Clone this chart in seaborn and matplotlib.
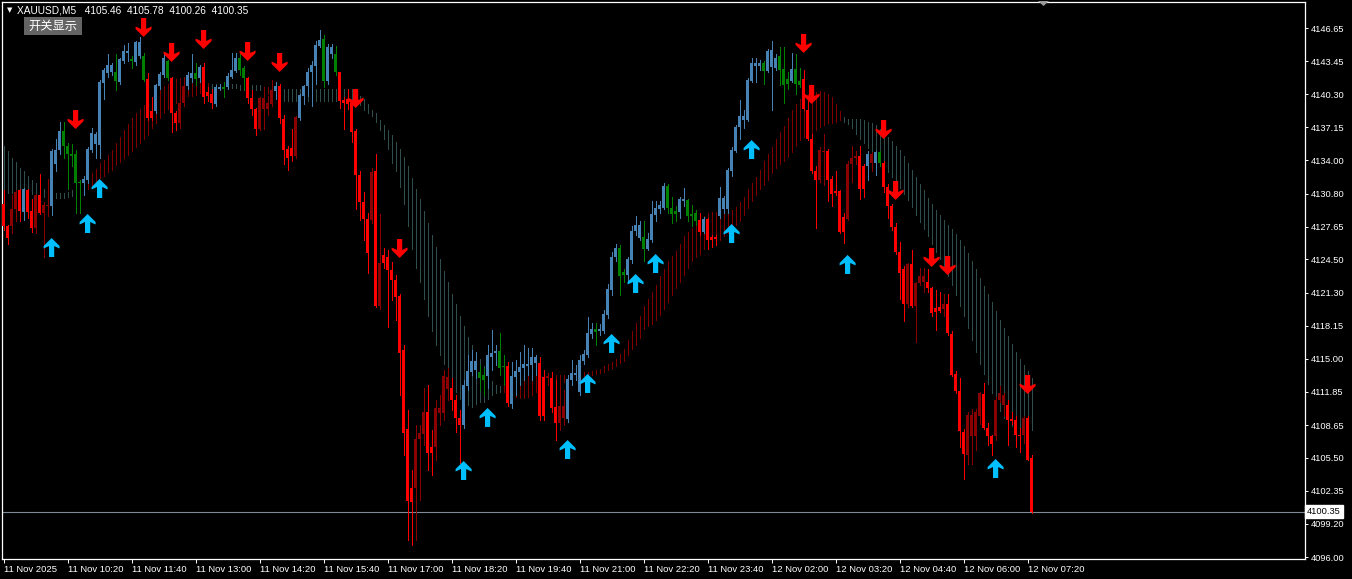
import numpy as np
import pandas as pd
import matplotlib
matplotlib.use("Agg")
import matplotlib.pyplot as plt
import seaborn as sns
from matplotlib.path import Path
from matplotlib.markers import MarkerStyle
from matplotlib.patches import Rectangle, Polygon
import matplotlib.transforms as mtransforms

# ---------------- data (XAUUSD M5) ----------------
opens = [4129.80, 4127.73, 4127.66, 4129.37, 4131.12, 4129.04, 4131.12, 4129.14, 4127.50, 4130.69,
 4128.98, 4129.64, 4129.64, 4133.66, 4134.97, 4136.82, 4135.40, 4134.64, 4134.64, 4131.94,
 4131.78, 4132.11, 4134.97, 4135.57, 4135.50, 4141.43, 4142.32, 4142.41, 4142.41, 4141.49,
 4143.53, 4144.29, 4143.70, 4143.40, 4143.96, 4143.96, 4141.76, 4138.69, 4138.69, 4141.10,
 4142.15, 4143.47, 4141.89, 4138.53, 4137.54, 4139.45, 4141.10, 4141.82, 4142.32, 4141.82,
 4142.88, 4140.50, 4140.34, 4139.35, 4140.83, 4141.00, 4141.00, 4141.99, 4142.58, 4143.80,
 4142.81, 4141.89, 4139.91, 4138.86, 4136.95, 4138.92, 4138.86, 4139.35, 4140.60, 4141.06,
 4137.97, 4135.07, 4135.17, 4134.41, 4138.00, 4140.17, 4141.10, 4142.41, 4142.97, 4144.95,
 4145.61, 4141.59, 4144.13, 4144.13, 4142.41, 4139.78, 4139.85, 4139.52, 4136.82, 4132.60,
 4130.03, 4128.39, 4128.32, 4132.93, 4120.09, 4124.93, 4124.73, 4123.49, 4122.54, 4121.00,
 4115.84, 4108.27, 4102.63, 4102.63, 4107.32, 4107.80, 4109.90, 4106.55, 4106.55, 4109.81,
 4109.81, 4112.10, 4112.20, 4111.05, 4109.33, 4108.66, 4112.39, 4113.73, 4113.92, 4113.73,
 4113.44, 4113.35, 4115.17, 4115.55, 4115.74, 4114.30, 4114.30, 4110.67, 4113.25, 4113.73,
 4114.11, 4114.30, 4114.40, 4114.59, 4114.59, 4113.25, 4113.16, 4113.16, 4110.38, 4108.85,
 4109.33, 4109.23, 4112.97, 4113.44, 4111.82, 4114.82, 4115.31, 4117.39, 4117.85, 4117.62,
 4117.62, 4119.17, 4121.57, 4124.70, 4125.62, 4123.32, 4123.05, 4124.44, 4127.27, 4126.51,
 4126.61, 4125.52, 4126.34, 4128.71, 4129.31, 4129.47, 4131.55, 4129.47, 4129.14, 4129.04,
 4130.13, 4130.23, 4128.81, 4128.98, 4128.32, 4127.17, 4128.39, 4126.67, 4126.67, 4128.65,
 4129.31, 4129.31, 4132.99, 4134.91, 4137.21, 4137.87, 4137.87, 4141.56, 4142.97, 4142.97,
 4143.30, 4142.55, 4142.88, 4142.81, 4143.96, 4142.74, 4141.76, 4141.56, 4142.74, 4141.56,
 4141.76, 4138.79, 4136.06, 4132.99, 4132.11, 4134.74, 4134.91, 4132.21, 4131.02, 4131.02,
 4128.58, 4128.39, 4133.59, 4134.25, 4134.41, 4133.42, 4133.42, 4133.75, 4133.75, 4134.74,
 4133.75, 4131.45, 4129.64, 4127.60, 4125.19, 4123.55, 4120.25, 4124.04, 4120.09, 4122.23,
 4122.33, 4122.33, 4121.73, 4119.82, 4119.92, 4119.76, 4120.25, 4117.39, 4113.50, 4111.92,
 4107.97, 4105.76, 4107.57, 4107.57, 4109.55, 4111.59, 4108.40, 4107.57, 4107.57, 4111.03,
 4110.54, 4110.54, 4109.22, 4109.15, 4107.74, 4107.74, 4109.29, 4105.46]

highs = [4131.12, 4127.83, 4130.63, 4131.12, 4131.28, 4131.35, 4131.28, 4130.30, 4130.79, 4132.67,
 4129.97, 4132.21, 4135.07, 4136.06, 4137.61, 4137.61, 4135.63, 4135.57, 4134.97, 4132.11,
 4132.44, 4135.24, 4137.05, 4136.72, 4141.66, 4142.81, 4144.13, 4143.30, 4144.13, 4143.80,
 4145.05, 4145.18, 4143.96, 4145.44, 4145.77, 4144.29, 4142.32, 4140.01, 4141.33, 4142.48,
 4144.13, 4143.63, 4141.99, 4138.69, 4139.85, 4141.99, 4142.48, 4144.13, 4143.30, 4143.14,
 4143.30, 4141.00, 4140.83, 4141.16, 4141.33, 4141.49, 4142.32, 4144.29, 4144.29, 4144.13,
 4142.97, 4141.99, 4140.67, 4139.02, 4140.01, 4141.00, 4140.17, 4141.66, 4141.49, 4141.33,
 4138.36, 4135.40, 4136.95, 4138.20, 4140.34, 4141.16, 4142.81, 4143.47, 4145.44, 4146.50,
 4145.94, 4145.12, 4145.12, 4144.95, 4142.48, 4140.01, 4140.83, 4139.68, 4136.95, 4132.93,
 4130.95, 4128.98, 4133.26, 4134.58, 4128.81, 4125.60, 4125.41, 4124.26, 4123.01, 4121.19,
 4116.31, 4110.10, 4104.35, 4108.66, 4108.66, 4112.20, 4112.49, 4108.18, 4111.05, 4111.53,
 4113.92, 4114.11, 4113.16, 4111.53, 4110.10, 4112.97, 4115.36, 4115.84, 4115.65, 4114.40,
 4114.11, 4116.31, 4117.75, 4116.31, 4117.46, 4115.36, 4114.69, 4114.69, 4114.88, 4115.65,
 4116.31, 4116.02, 4116.02, 4115.36, 4115.17, 4113.92, 4113.63, 4113.73, 4112.97, 4112.78,
 4112.01, 4113.44, 4114.88, 4114.40, 4115.36, 4115.81, 4119.03, 4118.44, 4118.44, 4118.28,
 4119.69, 4122.13, 4125.19, 4126.01, 4125.85, 4123.55, 4124.70, 4127.66, 4128.65, 4128.16,
 4128.16, 4127.00, 4130.13, 4130.13, 4130.13, 4131.78, 4131.68, 4130.46, 4129.64, 4130.46,
 4131.35, 4130.30, 4129.70, 4129.24, 4128.91, 4128.58, 4128.49, 4126.84, 4126.84, 4131.45,
 4130.56, 4133.26, 4135.24, 4137.38, 4139.78, 4138.79, 4141.82, 4143.80, 4143.80, 4143.63,
 4143.53, 4144.62, 4145.38, 4144.13, 4144.79, 4144.79, 4142.48, 4144.29, 4144.13, 4142.81,
 4142.64, 4139.68, 4136.55, 4133.42, 4135.24, 4136.55, 4135.07, 4132.44, 4132.93, 4131.12,
 4128.98, 4133.92, 4135.40, 4134.91, 4135.40, 4133.59, 4134.91, 4134.74, 4134.91, 4134.91,
 4133.92, 4131.68, 4129.80, 4127.99, 4126.18, 4123.88, 4124.20, 4125.36, 4122.39, 4123.71,
 4123.71, 4123.55, 4121.90, 4121.57, 4121.40, 4121.24, 4121.24, 4117.62, 4113.83, 4113.17,
 4108.23, 4109.88, 4110.21, 4110.21, 4111.86, 4112.68, 4108.89, 4107.74, 4111.36, 4112.35,
 4111.69, 4111.03, 4109.88, 4109.55, 4108.40, 4109.55, 4109.55, 4105.78]

lows = [4127.33, 4125.95, 4127.00, 4128.16, 4128.16, 4128.32, 4128.49, 4127.17, 4127.00, 4128.81,
 4124.76, 4128.65, 4128.71, 4132.93, 4134.58, 4134.25, 4131.28, 4133.42, 4128.98, 4128.98,
 4130.63, 4131.78, 4134.74, 4134.25, 4134.25, 4139.85, 4141.99, 4142.15, 4140.67, 4141.33,
 4143.30, 4143.47, 4142.81, 4143.14, 4143.80, 4141.56, 4137.87, 4137.87, 4138.53, 4140.83,
 4141.99, 4141.66, 4136.72, 4136.88, 4137.05, 4139.19, 4140.83, 4141.49, 4141.16, 4141.49,
 4139.52, 4139.68, 4139.02, 4139.19, 4140.67, 4140.01, 4140.83, 4141.82, 4142.48, 4142.15,
 4140.83, 4139.52, 4138.36, 4136.39, 4136.88, 4136.95, 4138.36, 4139.19, 4139.85, 4137.54,
 4133.59, 4133.10, 4133.92, 4134.25, 4137.87, 4139.35, 4140.17, 4139.19, 4141.33, 4144.79,
 4141.00, 4141.33, 4143.80, 4142.15, 4139.02, 4136.95, 4138.86, 4135.73, 4129.31, 4128.32,
 4126.34, 4123.22, 4127.99, 4119.92, 4119.76, 4123.68, 4118.04, 4120.62, 4118.71, 4111.53,
 4105.79, 4097.65, 4097.18, 4097.65, 4101.48, 4106.74, 4104.35, 4103.88, 4105.31, 4108.66,
 4109.14, 4111.05, 4110.10, 4107.99, 4105.02, 4108.37, 4112.01, 4113.44, 4113.16, 4112.01,
 4111.53, 4112.20, 4113.92, 4114.40, 4113.44, 4112.49, 4110.48, 4110.29, 4111.53, 4112.49,
 4112.97, 4113.44, 4112.97, 4113.44, 4109.14, 4109.14, 4112.49, 4109.90, 4107.22, 4108.18,
 4108.66, 4108.95, 4112.49, 4112.97, 4111.53, 4114.49, 4115.15, 4116.96, 4116.30, 4117.29,
 4117.45, 4118.94, 4121.08, 4124.37, 4121.08, 4122.39, 4122.39, 4124.20, 4126.84, 4126.34,
 4124.37, 4125.36, 4126.18, 4128.16, 4128.98, 4129.31, 4128.98, 4128.00, 4128.16, 4128.49,
 4129.64, 4128.16, 4127.73, 4127.83, 4126.84, 4127.00, 4125.52, 4125.68, 4125.85, 4128.49,
 4128.98, 4128.98, 4132.44, 4134.74, 4136.06, 4137.05, 4137.71, 4141.49, 4141.49, 4142.64,
 4141.33, 4142.48, 4138.79, 4142.64, 4141.16, 4139.52, 4140.83, 4141.49, 4140.34, 4141.00,
 4138.79, 4135.89, 4132.77, 4127.50, 4131.94, 4131.61, 4130.13, 4129.64, 4130.63, 4127.07,
 4126.08, 4128.32, 4131.94, 4133.59, 4130.30, 4130.46, 4132.11, 4132.93, 4132.60, 4133.42,
 4130.95, 4128.49, 4127.33, 4125.03, 4120.75, 4118.61, 4119.92, 4119.92, 4116.63, 4122.07,
 4121.40, 4121.40, 4119.10, 4117.78, 4119.43, 4119.10, 4117.29, 4113.34, 4111.69, 4106.59,
 4103.46, 4104.94, 4104.94, 4106.26, 4108.73, 4108.23, 4106.75, 4105.76, 4107.24, 4110.87,
 4109.55, 4106.75, 4108.73, 4106.59, 4106.09, 4106.91, 4105.27, 4100.26]

closes = [4127.66, 4126.51, 4129.37, 4130.95, 4129.14, 4131.22, 4129.04, 4127.50, 4130.69, 4128.98,
 4129.74, 4129.74, 4134.91, 4134.97, 4136.82, 4135.40, 4134.58, 4134.41, 4131.78, 4131.78,
 4132.21, 4135.04, 4136.62, 4136.55, 4141.49, 4142.64, 4143.11, 4143.11, 4141.56, 4143.70,
 4144.46, 4144.46, 4143.47, 4145.28, 4145.28, 4141.72, 4138.03, 4138.03, 4141.16, 4142.25,
 4143.80, 4141.89, 4138.53, 4137.54, 4139.52, 4141.10, 4142.15, 4142.38, 4141.76, 4142.91,
 4140.01, 4140.17, 4139.52, 4141.00, 4141.00, 4140.83, 4142.09, 4142.64, 4143.80, 4142.64,
 4141.89, 4139.91, 4138.86, 4136.95, 4139.91, 4139.91, 4139.52, 4140.67, 4141.06, 4138.03,
 4134.97, 4134.25, 4134.41, 4138.13, 4140.24, 4141.10, 4142.48, 4143.14, 4145.05, 4145.51,
 4141.59, 4144.85, 4144.85, 4142.41, 4139.68, 4139.52, 4139.42, 4136.72, 4132.54, 4130.03,
 4128.39, 4125.09, 4132.83, 4120.09, 4124.20, 4124.16, 4123.49, 4122.54, 4120.91, 4115.55,
 4107.89, 4101.38, 4101.29, 4107.32, 4107.89, 4109.90, 4105.98, 4105.98, 4110.29, 4110.29,
 4113.35, 4113.25, 4111.05, 4109.33, 4108.66, 4112.49, 4113.82, 4114.78, 4114.78, 4113.16,
 4112.97, 4115.36, 4115.55, 4115.74, 4114.11, 4114.21, 4110.76, 4113.35, 4113.82, 4114.21,
 4114.50, 4114.50, 4115.17, 4115.17, 4109.52, 4109.52, 4113.35, 4110.29, 4108.85, 4110.48,
 4110.48, 4113.06, 4113.63, 4113.63, 4114.88, 4115.41, 4117.45, 4117.85, 4117.52, 4117.85,
 4119.26, 4121.67, 4124.76, 4125.62, 4122.89, 4122.99, 4124.53, 4127.27, 4127.83, 4127.83,
 4125.52, 4126.41, 4128.81, 4129.47, 4129.70, 4131.55, 4129.47, 4128.81, 4128.81, 4130.30,
 4130.30, 4128.65, 4128.65, 4128.22, 4127.17, 4128.39, 4126.34, 4126.34, 4126.41, 4130.36,
 4130.36, 4133.10, 4134.97, 4137.15, 4138.27, 4138.27, 4141.66, 4143.30, 4143.30, 4143.30,
 4142.55, 4144.46, 4144.52, 4143.80, 4142.64, 4141.23, 4141.33, 4142.74, 4141.33, 4141.23,
 4138.86, 4136.06, 4132.93, 4132.11, 4134.97, 4134.91, 4132.11, 4130.79, 4130.86, 4127.17,
 4127.17, 4133.66, 4134.25, 4134.41, 4131.28, 4131.28, 4134.64, 4134.64, 4134.74, 4133.75,
 4131.45, 4129.64, 4127.60, 4125.19, 4123.22, 4120.25, 4124.04, 4120.09, 4122.23, 4122.89,
 4122.89, 4121.80, 4119.36, 4119.49, 4119.59, 4120.25, 4117.45, 4113.44, 4111.92, 4108.07,
 4105.93, 4109.62, 4109.62, 4109.88, 4111.69, 4108.40, 4107.57, 4106.85, 4111.03, 4111.69,
 4111.53, 4109.15, 4109.06, 4107.74, 4107.64, 4109.29, 4105.34, 4100.35]

# candle colour state: B up/uptrend, G down/uptrend, R down/downtrend, D up/downtrend
candle_state = ("RRDDRBRRDR" "DDBBBGGGGG" "BBBBBBBBGB" "BBGBBGRRBB" "BGRRDDBBGB"
                "RRRBBGBBBG" "GRRRDDDDBR" "RRRDBBBBBB" "GBBGRRRRRR" "RRDRDRRRRR"
                "RRRDDDRRDD" "DDRRRBBBBG" "GBBBGGRBBB" "BBBBRRDRRD" "DBBBBBBBGB"
                "BBBBGGBBBB" "GBBBBBGGGB" "BGGGRBRRRB" "BBBBBBBBBB" "GBBBGGGBGG"
                "RRRRDDRRRR" "RDDDRRBDBG" "RRRRRRDRDD" "DRRRRDRRRR" "RDDDDRRRDD"
                "DRRRRDRR")

# trend cloud (two lines) and its state: S bearish (slate), M bullish (maroon)
band_upper = [4135.4, 4134.9, 4134.2, 4133.8, 4133.3, 4133.0, 4132.5, 4132.1, 4131.8, 4131.4,
 4131.2, 4131.0, 4131.0, 4130.9, 4130.9, 4130.9, 4131.0, 4131.1, 4131.2, 4131.2,
 4132.1, 4132.4, 4132.8, 4133.2, 4133.7, 4134.0, 4134.5, 4135.0, 4135.6, 4136.2,
 4136.9, 4137.5, 4138.0, 4138.5, 4138.9, 4139.3, 4139.7, 4140.0, 4140.4, 4140.8,
 4141.1, 4141.3, 4141.5, 4141.8, 4141.9, 4141.9, 4141.8, 4141.7, 4141.5, 4141.5,
 4141.5, 4141.4, 4141.3, 4141.3, 4141.3, 4141.3, 4141.3, 4141.3, 4141.3, 4141.2,
 4141.2, 4141.2, 4141.2, 4141.2, 4141.2, 4141.0, 4141.0, 4141.0, 4141.0, 4141.0,
 4140.8, 4140.8, 4140.8, 4140.8, 4140.8, 4140.8, 4140.8, 4140.8, 4140.8, 4140.8,
 4140.8, 4140.8, 4140.8, 4140.8, 4140.8, 4140.8, 4140.8, 4140.8, 4140.8, 4140.1,
 4139.9, 4139.4, 4138.8, 4138.5, 4137.8, 4137.4, 4136.9, 4136.4, 4135.7, 4135.1,
 4134.3, 4133.4, 4132.3, 4131.2, 4130.3, 4129.1, 4128.0, 4126.8, 4125.7, 4124.5,
 4123.4, 4122.3, 4121.2, 4120.2, 4119.1, 4118.1, 4117.1, 4116.3, 4115.6, 4115.0,
 4114.3, 4113.5, 4112.9, 4112.5, 4112.4, 4112.6, 4112.8, 4113.0, 4113.2, 4113.4,
 4113.5, 4113.5, 4113.4, 4113.4, 4113.4, 4113.4, 4113.4, 4113.4, 4113.4, 4113.4,
 4113.4, 4113.4, 4113.5, 4113.5, 4113.6, 4113.7, 4113.7, 4113.8, 4113.9, 4114.0,
 4114.3, 4114.5, 4114.7, 4115.0, 4115.5, 4115.9, 4116.8, 4117.7, 4118.4, 4119.1,
 4120.0, 4120.7, 4121.4, 4122.1, 4122.9, 4123.6, 4124.4, 4124.8, 4125.3, 4126.0,
 4126.7, 4127.1, 4127.5, 4127.8, 4128.3, 4128.7, 4128.9, 4129.0, 4129.0, 4129.0,
 4129.0, 4129.0, 4129.2, 4129.5, 4130.0, 4130.5, 4131.2, 4131.8, 4132.4, 4133.1,
 4133.9, 4134.6, 4135.3, 4136.0, 4136.7, 4137.3, 4138.0, 4138.8, 4139.4, 4139.9,
 4140.2, 4140.3, 4140.4, 4140.5, 4140.6, 4140.5, 4140.3, 4140.0, 4139.4, 4138.7,
 4138.1, 4137.9, 4137.9, 4137.9, 4137.9, 4137.8, 4137.7, 4137.6, 4137.4, 4137.0,
 4136.6, 4136.2, 4135.8, 4135.4, 4135.0, 4134.4, 4133.7, 4133.1, 4132.4, 4131.7,
 4131.1, 4130.4, 4129.8, 4129.2, 4128.8, 4128.3, 4127.8, 4127.4, 4126.9, 4126.4,
 4125.8, 4125.1, 4124.4, 4123.6, 4122.7, 4122.0, 4121.2, 4120.4, 4119.6, 4118.7,
 4117.9, 4117.2, 4116.4, 4115.6, 4115.0, 4114.4, 4113.8, 4113.2]

band_lower = [4130.9, 4130.9, 4130.9, 4130.9, 4130.9, 4130.8, 4130.8, 4130.8, 4130.8, 4130.7,
 4130.5, 4130.4, 4130.4, 4130.4, 4130.4, 4130.4, 4130.5, 4130.6, 4130.6, 4130.7,
 4131.0, 4131.2, 4131.3, 4131.7, 4132.3, 4132.5, 4132.9, 4133.1, 4133.5, 4133.8,
 4134.2, 4134.5, 4134.9, 4135.3, 4135.6, 4136.0, 4136.4, 4137.1, 4137.6, 4138.0,
 4138.5, 4138.9, 4139.2, 4139.5, 4139.8, 4140.0, 4140.1, 4140.1, 4140.2, 4140.4,
 4140.5, 4140.7, 4140.8, 4140.9, 4140.9, 4140.9, 4140.9, 4140.9, 4140.9, 4140.7,
 4140.7, 4140.7, 4140.7, 4140.7, 4140.7, 4140.3, 4140.3, 4140.3, 4140.3, 4140.3,
 4139.7, 4139.7, 4139.7, 4139.7, 4139.7, 4139.7, 4139.7, 4139.7, 4139.7, 4139.7,
 4139.7, 4139.7, 4139.7, 4139.7, 4139.7, 4139.7, 4139.7, 4139.7, 4139.7, 4139.3,
 4138.8, 4138.5, 4138.2, 4137.7, 4136.9, 4136.0, 4135.1, 4133.7, 4133.0, 4131.4,
 4129.8, 4127.7, 4125.5, 4123.7, 4122.3, 4120.7, 4119.1, 4117.7, 4116.3, 4115.4,
 4114.5, 4113.3, 4112.5, 4111.8, 4111.1, 4110.9, 4110.6, 4110.4, 4110.7, 4110.9,
 4110.9, 4111.1, 4111.5, 4111.7, 4111.8, 4111.8, 4111.6, 4111.4, 4111.3, 4111.2,
 4111.2, 4111.3, 4111.5, 4111.8, 4112.2, 4112.4, 4112.5, 4112.6, 4112.6, 4112.7,
 4112.8, 4112.9, 4113.0, 4113.1, 4113.2, 4113.2, 4113.3, 4113.4, 4113.5, 4113.6,
 4113.7, 4113.9, 4114.1, 4114.3, 4114.6, 4114.8, 4115.4, 4115.9, 4116.3, 4117.0,
 4117.8, 4118.1, 4118.3, 4118.7, 4119.2, 4119.8, 4120.4, 4121.1, 4121.8, 4122.3,
 4123.0, 4123.7, 4124.4, 4124.7, 4125.0, 4125.5, 4125.7, 4125.9, 4126.0, 4126.4,
 4126.7, 4127.0, 4127.5, 4127.8, 4128.2, 4128.8, 4129.4, 4130.1, 4130.7, 4131.2,
 4131.6, 4132.1, 4132.8, 4133.3, 4133.6, 4133.9, 4134.3, 4134.8, 4135.4, 4135.9,
 4136.2, 4136.4, 4136.6, 4136.9, 4137.2, 4137.4, 4137.6, 4137.6, 4137.7, 4137.8,
 4137.7, 4137.5, 4137.1, 4136.5, 4136.0, 4135.6, 4135.2, 4134.7, 4134.2, 4133.8,
 4133.3, 4132.9, 4132.4, 4131.9, 4131.3, 4130.8, 4130.2, 4129.5, 4128.8, 4128.1,
 4127.4, 4126.7, 4126.0, 4125.2, 4124.5, 4123.7, 4122.9, 4122.1, 4121.1, 4120.0,
 4119.1, 4117.9, 4116.8, 4115.6, 4114.5, 4113.5, 4112.6, 4111.7, 4110.9, 4110.0,
 4109.3, 4108.9, 4108.6, 4108.3, 4108.1, 4108.0, 4108.0, 4108.2]

band_state = ("SSSSSSSSSS" "SSSSSSSSSM" "MMMMMMMMMM" "MMMMMMMMMM" "MMMMMMMMMM"
              "MMSSSSSSSS" "SSSSSMMMMM" "SSSSSSSSSS" "SSSSSSSSSS" "SSSSSSSSSS"
              "SSSSSSSSSS" "SSSSSSSSSS" "SSSSSMMMMM" "MMMMMMMMMM" "MMMMMMMMMM"
              "MMMMMMMMMM" "MMMMMMMMMM" "MMMMMMMMMM" "MMMMMMMMMM" "MMMMMMMMMM"
              "MMMMMMMMMM" "SSSSSSSSSS" "SSSSSSSSSS" "SSSSSSSSSS" "SSSSSSSSSS"
              "SSSSSSSS")

# signal arrows (bar index, price at the arrow tip)
down_idx = [18, 35, 42, 50, 61, 69, 88, 99, 200, 202, 220, 223, 232, 236, 256]
down_price = [4136.98, 4145.79, 4143.40, 4144.64, 4143.49, 4142.44, 4138.99, 4124.64,
              4144.26, 4139.38, 4136.03, 4130.19, 4123.78, 4123.01, 4111.62]
up_idx = [12, 21, 24, 115, 121, 141, 146, 152, 158, 163, 182, 187, 211, 248]
up_price = [4126.55, 4128.85, 4132.20, 4105.21, 4110.29, 4107.22, 4113.54, 4117.37,
            4123.11, 4125.02, 4127.89, 4135.93, 4124.93, 4105.40]

time_labels = ["11 Nov 2025", "11 Nov 10:20", "11 Nov 11:40", "11 Nov 13:00", "11 Nov 14:20",
               "11 Nov 15:40", "11 Nov 17:00", "11 Nov 18:20", "11 Nov 19:40", "11 Nov 21:00",
               "11 Nov 22:20", "11 Nov 23:40", "12 Nov 02:00", "12 Nov 03:20", "12 Nov 04:40",
               "12 Nov 06:00", "12 Nov 07:20"]
price_ticks = [4146.65, 4143.45, 4140.30, 4137.15, 4134.00, 4130.80, 4127.65, 4124.50, 4121.30,
               4118.15, 4115.00, 4111.85, 4108.65, 4105.50, 4102.35, 4099.20, 4096.00]
last_price = 4100.35
title_text = "XAUUSD,M5   4105.46  4105.78  4100.26  4100.35"
button_text = "开关显示"

# ---------------- drawing ----------------
W, H = 1352, 579
sns.set_theme(style="dark", rc={"figure.facecolor": "black", "axes.facecolor": "black",
                                "savefig.facecolor": "black"})
plt.rcParams["font.family"] = ["Liberation Sans", "DejaVu Sans"]

fig = plt.figure(figsize=(W / 100, H / 100), dpi=100)
ax = fig.add_axes([2 / W, 1 - 559 / H, 1303 / W, 557 / H])
ax.set_facecolor("black")
ax.grid(False)

n = len(closes)
x = np.arange(n)
pal = {"B": "#4682B4", "G": "#008000", "R": "#FF0000", "D": "#8B0000"}
bpal = {"S": "#2F4F4F", "M": "#800000"}
cc = [pal[s] for s in candle_state]
bc = [bpal[s] for s in band_state]

ax.axhline(last_price, color="#7F8A96", lw=0.8, zorder=0.5)
ax.vlines(x, band_lower, band_upper, colors=bc, linewidth=0.5, zorder=1, antialiased=False)
ax.vlines(x, lows, highs, colors=cc, linewidth=0.5, zorder=2, antialiased=False)
o = np.array(opens)
c = np.array(closes)
ax.bar(x, np.maximum(np.abs(c - o), 0.1), bottom=np.minimum(o, c), width=0.9,
       color=cc, linewidth=0, zorder=3, antialiased=False)

up_verts = [(0, 0), (8, -8), (8, -10.5), (2.6, -8), (2.6, -19), (-2.6, -19),
            (-2.6, -8), (-8, -10.5), (-8, -8), (0, 0)]
dn_verts = [(vx, -vy) for vx, vy in up_verts]
up_marker = MarkerStyle(Path(up_verts, closed=True))
dn_marker = MarkerStyle(Path(dn_verts, closed=True))
msize = (2 * 19 * 0.72) ** 2

df_up = pd.DataFrame({"bar": up_idx, "price": up_price})
df_dn = pd.DataFrame({"bar": down_idx, "price": down_price})
sns.scatterplot(data=df_up, x="bar", y="price", marker=up_marker, s=msize,
                color="#00BFFF", edgecolor="none", linewidth=0, ax=ax, zorder=4, legend=False)
sns.scatterplot(data=df_dn, x="bar", y="price", marker=dn_marker, s=msize,
                color="#FF0000", edgecolor="none", linewidth=0, ax=ax, zorder=4, legend=False)

ax.set_xlim(-0.4, (1305 - 3.6) / 4)
ax.set_ylim(4149.33 - 0.0957 * 559, 4149.33 - 0.0957 * 2)
ax.set_xlabel("")
ax.set_ylabel("")

for s in ax.spines.values():
    s.set_color("white")
    s.set_linewidth(0.9)
    s.set_visible(True)

ax.yaxis.tick_right()
ax.set_yticks(price_ticks)
ax.set_yticklabels([f"{p:.2f}" for p in price_ticks])
ax.tick_params(axis="y", colors="white", labelcolor="white", length=2.2, width=0.7,
               labelsize=6.7, pad=2.0, direction="out", right=True, left=False)
ax.set_xticks(np.arange(len(time_labels)) * 16)
ax.set_xticklabels(time_labels)
ax.tick_params(axis="x", colors="white", labelcolor="white", length=2.8, width=0.7,
               labelsize=6.8, pad=1.5, direction="out", bottom=True)
for lab in ax.get_xticklabels():
    lab.set_horizontalalignment("left")

trans = mtransforms.blended_transform_factory(ax.transAxes, ax.transData)
ax.text(1.0 + 2 / 1303, last_price, f"{last_price:.2f}", transform=trans, color="black",
        fontsize=6.7, va="center", ha="left", zorder=6, clip_on=False,
        bbox=dict(boxstyle="square,pad=0.2", fc="white", ec="white"))

# header text and button
fig.text(6.5 / W, 1 - 10.5 / H, "▼", color="white", fontsize=5, va="center", ha="left",
         family=["DejaVu Sans"])
fig.text(17 / W, 1 - 10.5 / H, title_text, color="white", fontsize=7.3, va="center", ha="left")
fig.patches.append(Rectangle((24 / W, 1 - 35 / H), 58 / W, 18 / H, transform=fig.transFigure,
                             facecolor="#646464", edgecolor="none", zorder=5))
fig.text(53 / W, 1 - 26 / H, button_text, color="white", fontsize=8.8, va="center",
         ha="center", family=["Noto Sans CJK SC", "DejaVu Sans"], zorder=6)
fig.patches.append(Polygon([(1038 / W, 1 - 1 / H), (1049 / W, 1 - 1 / H), (1043.5 / W, 1 - 6 / H)],
                           closed=True, transform=fig.transFigure, facecolor="#9A9A9A",
                           edgecolor="none", zorder=5))

fig.savefig("out.png", dpi=100, facecolor="black")
